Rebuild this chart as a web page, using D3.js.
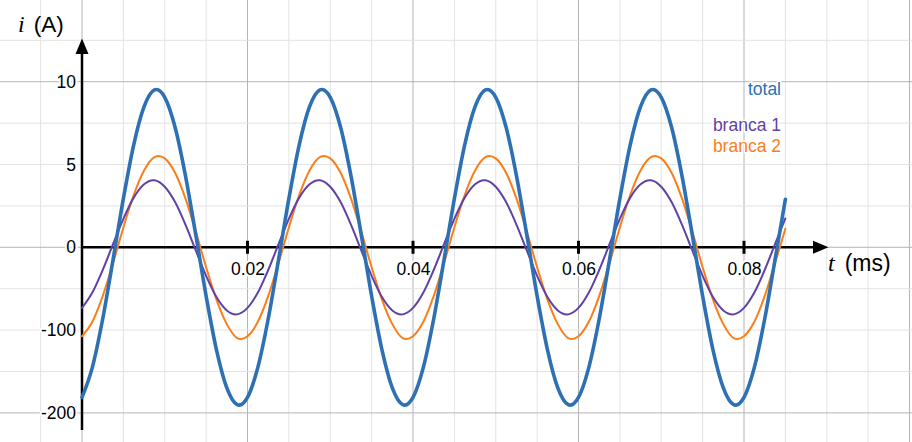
<!DOCTYPE html>
<html>
<head>
<meta charset="utf-8">
<script src="https://cdn.jsdelivr.net/npm/d3@7"></script>
<style>
  html, body { margin: 0; padding: 0; background: #fff; }
  svg { display: block; }
  text { font-family: "Liberation Sans", Arial, sans-serif; }
</style>
</head>
<body>
<div id="chart"></div>
<script>
// ---------- data ----------
const timeStep = 0.00125;            // sampling step of the readings (ms)
const tValues = d3.range(0, 69).map(k => +(k * timeStep).toFixed(5));

const totalValues = [
  -9.06, -7.25, -4.33, -0.75, 2.94, 6.19, 8.49, 9.50, 9.06, 7.25, 4.33, 0.75, -2.94, -6.19, -8.49, -9.50,
  -9.06, -7.25, -4.33, -0.75, 2.94, 6.19, 8.49, 9.50, 9.06, 7.25, 4.33, 0.75, -2.94, -6.19, -8.49, -9.50,
  -9.06, -7.25, -4.33, -0.75, 2.94, 6.19, 8.49, 9.50, 9.06, 7.25, 4.33, 0.75, -2.94, -6.19, -8.49, -9.50,
  -9.06, -7.25, -4.33, -0.75, 2.94, 6.19, 8.49, 9.50, 9.06, 7.25, 4.33, 0.75, -2.94, -6.19, -8.49, -9.50,
  -9.06, -7.25, -4.33, -0.75, 2.90
];
const branca1Values = [
  -3.66, -2.73, -1.37, 0.19, 1.72, 3.00, 3.81, 4.05, 3.66, 2.73, 1.37, -0.19, -1.72, -3.00, -3.81, -4.05,
  -3.66, -2.73, -1.37, 0.19, 1.72, 3.00, 3.81, 4.05, 3.66, 2.73, 1.37, -0.19, -1.72, -3.00, -3.81, -4.05,
  -3.66, -2.73, -1.37, 0.19, 1.72, 3.00, 3.81, 4.05, 3.66, 2.73, 1.37, -0.19, -1.72, -3.00, -3.81, -4.05,
  -3.66, -2.73, -1.37, 0.19, 1.72, 3.00, 3.81, 4.05, 3.66, 2.73, 1.37, -0.19, -1.72, -3.00, -3.81, -4.05,
  -3.66, -2.73, -1.37, 0.19, 1.74
];
const branca2Values = [
  -5.37, -4.50, -2.95, -0.95, 1.20, 3.16, 4.64, 5.44, 5.37, 4.50, 2.95, 0.95, -1.20, -3.16, -4.64, -5.48,
  -5.37, -4.50, -2.95, -0.95, 1.20, 3.16, 4.64, 5.44, 5.37, 4.50, 2.95, 0.95, -1.20, -3.16, -4.64, -5.48,
  -5.37, -4.50, -2.95, -0.95, 1.20, 3.16, 4.64, 5.44, 5.37, 4.50, 2.95, 0.95, -1.20, -3.16, -4.64, -5.48,
  -5.37, -4.50, -2.95, -0.95, 1.20, 3.16, 4.64, 5.44, 5.37, 4.50, 2.95, 0.95, -1.20, -3.16, -4.64, -5.48,
  -5.37, -4.50, -2.95, -0.95, 1.12
];

const seriesNames = ["total", "branca 1", "branca 2"];
const seriesColors = ["#2d70b3", "#6042a6", "#fa7e19"];

const xTicks = [0.02, 0.04, 0.06, 0.08];
const xTickLabels = ["0.02", "0.04", "0.06", "0.08"];
const yTicks = [10, 5, 0, -5, -10];
const yTickLabels = ["10", "5", "0", "-100", "-200"];

const xMinorStep = 0.005, xMajorStep = 0.02;
const yMinorStep = 2.5, yMajorStep = 10;

// ---------- layout ----------
const W = 912, H = 442;
const svg = d3.select("#chart").append("svg").attr("width", W).attr("height", H);

const x = d3.scaleLinear().domain([0, 0.08]).range([82, 744]);
const y = d3.scaleLinear().domain([-10, 10]).range([412.9, 81.7]);

// ---------- grid ----------
const grid = svg.append("g");
const xGrid = d3.range(-2, 21).map(k => +(k * xMinorStep).toFixed(4));
const yGrid = d3.range(-5, 7).map(k => k * yMinorStep);
const isMajor = (v, step) => Math.abs(v / step - Math.round(v / step)) < 1e-6;

grid.selectAll("line.vx").data(xGrid).join("line")
  .attr("x1", d => x(d)).attr("x2", d => x(d))
  .attr("y1", 0).attr("y2", H)
  .attr("stroke", d => isMajor(d, xMajorStep) ? "#b4b4b4" : "#e3e3e3")
  .attr("stroke-width", 1);
grid.selectAll("line.hy").data(yGrid).join("line")
  .attr("y1", d => y(d)).attr("y2", d => y(d))
  .attr("x1", 0).attr("x2", W)
  .attr("stroke", d => isMajor(d, yMajorStep) ? "#b4b4b4" : "#e3e3e3")
  .attr("stroke-width", 1);

// ---------- axes ----------
const axes = svg.append("g");
const x0 = x(0), y0 = y(0);
axes.append("line").attr("x1", x0).attr("x2", 816).attr("y1", y0).attr("y2", y0)
  .attr("stroke", "#000").attr("stroke-width", 2.5);
axes.append("path").attr("d", `M828.5,${y0} L813,${y0 - 6.5} L813,${y0 + 6.5} Z`).attr("fill", "#000");
axes.append("line").attr("x1", x0).attr("x2", x0).attr("y1", 430).attr("y2", 52)
  .attr("stroke", "#000").attr("stroke-width", 2.5);
axes.append("path").attr("d", `M${x0},38.5 L${x0 - 6.5},54 L${x0 + 6.5},54 Z`).attr("fill", "#000");

axes.selectAll("line.xt").data(xTicks).join("line")
  .attr("x1", d => x(d)).attr("x2", d => x(d))
  .attr("y1", y0 - 6.5).attr("y2", y0 + 6.5)
  .attr("stroke", "#000").attr("stroke-width", 3);

const xAxis = d3.axisBottom(x).tickValues(xTicks)
  .tickFormat((d, i) => xTickLabels[i]).tickSize(0).tickPadding(15);
const gx = svg.append("g").attr("transform", `translate(0,${y0})`).call(xAxis);
gx.select(".domain").remove();
gx.selectAll("text")
  .attr("font-family", "Liberation Sans, Arial, sans-serif")
  .attr("font-size", 17.5).attr("fill", "#000")
  .attr("stroke", "#fff").attr("stroke-width", 4).attr("paint-order", "stroke")
  .attr("stroke-linejoin", "round");

const yAxis = d3.axisLeft(y).tickValues(yTicks)
  .tickFormat((d, i) => yTickLabels[i]).tickSize(0).tickPadding(6);
const gy = svg.append("g").attr("transform", `translate(${x0},0)`).call(yAxis);
gy.select(".domain").remove();
gy.selectAll("text")
  .attr("font-family", "Liberation Sans, Arial, sans-serif")
  .attr("font-size", 17.5).attr("fill", "#000")
  .attr("stroke", "#fff").attr("stroke-width", 4).attr("paint-order", "stroke")
  .attr("stroke-linejoin", "round");

// axis titles
const yTitle = svg.append("text").attr("x", 18).attr("y", 32).attr("font-size", 22.5);
yTitle.append("tspan").attr("font-family", "Liberation Serif, Times New Roman, serif")
  .attr("font-style", "italic").attr("font-size", 24).text("i");
yTitle.append("tspan").attr("dx", 9).text("(A)");

const xTitle = svg.append("text").attr("x", 828).attr("y", 271).attr("font-size", 23);
xTitle.append("tspan").attr("font-family", "Liberation Serif, Times New Roman, serif")
  .attr("font-style", "italic").attr("font-size", 24).text("t");
xTitle.append("tspan").attr("dx", 10).text("(ms)");

// ---------- curves ----------
const seriesValues = [totalValues, branca1Values, branca2Values];
const line = d3.line()
  .x((d, i) => x(tValues[i]))
  .y(d => y(d))
  .curve(d3.curveCatmullRom.alpha(0));

const drawOrder = [2, 1, 0];
const curves = svg.append("g");
drawOrder.forEach(si => {
  curves.append("path")
    .datum(seriesValues[si])
    .attr("d", line)
    .attr("fill", "none")
    .attr("stroke", seriesColors[si])
    .attr("stroke-width", si === 0 ? 3.6 : 2)
    .attr("stroke-linecap", "round")
    .attr("stroke-linejoin", "round");
});

// ---------- legend labels ----------
const legendBaselines = [95, 131, 152];
svg.append("g").selectAll("text").data(seriesNames).join("text")
  .attr("x", 781).attr("y", (d, i) => legendBaselines[i])
  .attr("text-anchor", "end")
  .attr("font-size", 17.5)
  .attr("fill", (d, i) => seriesColors[i])
  .attr("stroke", "#fff").attr("stroke-width", 3).attr("paint-order", "stroke")
  .text(d => d);
</script>
</body>
</html>
